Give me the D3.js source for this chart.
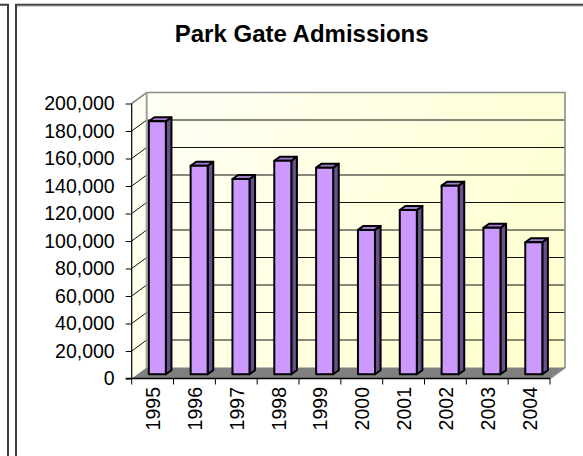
<!DOCTYPE html>
<html>
<head>
<meta charset="utf-8">
<style>
html,body{margin:0;padding:0;background:#fff;overflow:hidden}
svg{display:block}
text{font-family:"Liberation Sans",Arial,sans-serif;fill:#000}
</style>
<script src="https://cdn.jsdelivr.net/npm/d3@7/dist/d3.min.js"></script>
</head>
<body>
<svg id="c" width="583" height="456"></svg>
<script>
const chartTitle = "Park Gate Admissions";
const years = ["1995","1996","1997","1998","1999","2000","2001","2002","2003","2004"];
const admissions = [184000,151700,142000,155300,150300,105000,119500,137200,106600,96000];
const yTicks = [0,20000,40000,60000,80000,100000,120000,140000,160000,180000,200000];

const svg = d3.select("#c");
const F = {l:131.7, r:550, t:103.5, b:378.5};   // front plane of the plot box
const D = {x:15, y:-11};                        // depth of the box
const B = {x:5.6, y:-4};                        // depth of one bar
const barShift = {x:4.7, y:-4.2};               // bars stand mid-floor

const x = d3.scaleBand().domain(years).range([F.l,F.r]).paddingInner(0.593).paddingOuter(0.2965);
const y = d3.scaleLinear().domain([0,200000]).range([F.b,F.t]);

// page frame
const frame = svg.append("g");
frame.append("path").attr("d","M0,4.8H8V456").attr("fill","none").attr("stroke","#3c3c3c").attr("stroke-width",2);
frame.append("path").attr("d","M16,456V4.8H583").attr("fill","none").attr("stroke","#3c3c3c").attr("stroke-width",2);
frame.append("line").attr("x1",17).attr("x2",583).attr("y1",6.3).attr("y2",6.3).attr("stroke","#c4c4c4").attr("stroke-width",1);

// wall gradient
const defs = svg.append("defs");
const g = defs.append("linearGradient").attr("id","wall").attr("gradientUnits","userSpaceOnUse")
  .attr("x1",F.l).attr("y1",F.t+D.y).attr("x2",F.r+D.x).attr("y2",F.b+D.y);
g.append("stop").attr("offset",0).attr("stop-color","#fffff6");
g.append("stop").attr("offset",1).attr("stop-color","#ffffcc");

const line = d3.line();
const poly = pts => line(pts)+"Z";

// side wall
svg.append("path")
  .attr("d",poly([[F.l,F.t],[F.l+D.x,F.t+D.y],[F.l+D.x,F.b+D.y],[F.l,F.b]]))
  .attr("fill","url(#wall)");
// back wall
svg.append("rect").attr("x",F.l+D.x).attr("y",F.t+D.y)
  .attr("width",F.r-F.l).attr("height",F.b-F.t).attr("fill","url(#wall)");
// floor
svg.append("path")
  .attr("d",poly([[F.l,F.b],[F.l+D.x,F.b+D.y],[F.r+D.x,F.b+D.y],[F.r,F.b]]))
  .attr("fill","#808080");

// gridlines
const grid = svg.append("g").attr("fill","none").attr("stroke","#111").attr("stroke-width",1);
yTicks.filter(d=>d>0 && d<200000).forEach(d=>{
  grid.append("path").attr("d",line([[F.l,y(d)],[F.l+D.x,y(d)+D.y],[F.r+D.x,y(d)+D.y]]));
});

// wall borders
svg.append("path")
  .attr("d",line([[F.l,F.t],[F.l+D.x,F.t+D.y],[F.r+D.x,F.t+D.y],[F.r+D.x,F.b+D.y],[F.r,F.b]]))
  .attr("fill","none").attr("stroke","#8c8c8c").attr("stroke-width",1.6);
svg.append("line").attr("x1",F.l+D.x).attr("x2",F.l+D.x).attr("y1",F.t+D.y).attr("y2",F.b+D.y)
  .attr("stroke","#a0a0a0").attr("stroke-width",2);

// bars
const bars = svg.append("g").selectAll("g").data(years.map((yr,i)=>({yr,v:admissions[i]}))).join("g")
  .attr("stroke","#000").attr("stroke-width",2).attr("stroke-linejoin","round");
const w = x.bandwidth();
bars.append("path").attr("fill","#68508a").attr("d",d=>{
  const a=x(d.yr)+barShift.x+w, t=y(d.v)+barShift.y, b=y(0)+barShift.y;
  return poly([[a,t],[a+B.x,t+B.y],[a+B.x,b+B.y],[a,b]]);
});
bars.append("path").attr("fill","#a37acc").attr("d",d=>{
  const a=x(d.yr)+barShift.x, t=y(d.v)+barShift.y;
  return poly([[a,t],[a+B.x,t+B.y],[a+w+B.x,t+B.y],[a+w,t]]);
});
bars.append("rect").attr("fill","#cc99ff")
  .attr("x",d=>x(d.yr)+barShift.x).attr("y",d=>y(d.v)+barShift.y)
  .attr("width",w).attr("height",d=>y(0)-y(d.v));

// y axis
const ax = svg.append("g").attr("transform",`translate(${F.l},0)`)
  .call(d3.axisLeft(y).tickValues(yTicks).tickFormat(d3.format(",")).tickSize(6).tickPadding(11));
ax.selectAll("path").remove();
ax.selectAll("line").attr("stroke","#000");
ax.selectAll("text").attr("font-size","19.5px").style("font-family",'"Liberation Sans",Arial,sans-serif').attr("fill","#000");
svg.append("line").attr("x1",F.l).attr("x2",F.l).attr("y1",F.t).attr("y2",F.b).attr("stroke","#000").attr("stroke-width",1.2);

// x axis
const bx = svg.append("g").attr("transform",`translate(0,${F.b})`)
  .call(d3.axisBottom(x).tickSize(0).tickPadding(0));
bx.select("path").remove();
const step = x.step();
bx.selectAll(".tick text")
  .attr("font-size","19.5px").style("font-family",'"Liberation Sans",Arial,sans-serif').attr("fill","#000")
  .attr("text-anchor","end").attr("dy",0)
  .attr("transform","translate(7.5,8.5) rotate(-90)").attr("y",0).attr("x",0);
svg.append("line").attr("x1",F.l-6).attr("x2",F.r).attr("y1",F.b).attr("y2",F.b).attr("stroke","#000").attr("stroke-width",1.5);
svg.append("g").selectAll("line").data(d3.range(years.length+1)).join("line")
  .attr("x1",i=>F.l+i*step).attr("x2",i=>F.l+i*step)
  .attr("y1",F.b).attr("y2",F.b+6).attr("stroke","#000").attr("stroke-width",1);

// title
svg.append("text").attr("x",301.7).attr("y",41.5).attr("text-anchor","middle")
  .attr("font-size","24px").attr("font-weight","bold").text(chartTitle);
</script>
</body>
</html>
